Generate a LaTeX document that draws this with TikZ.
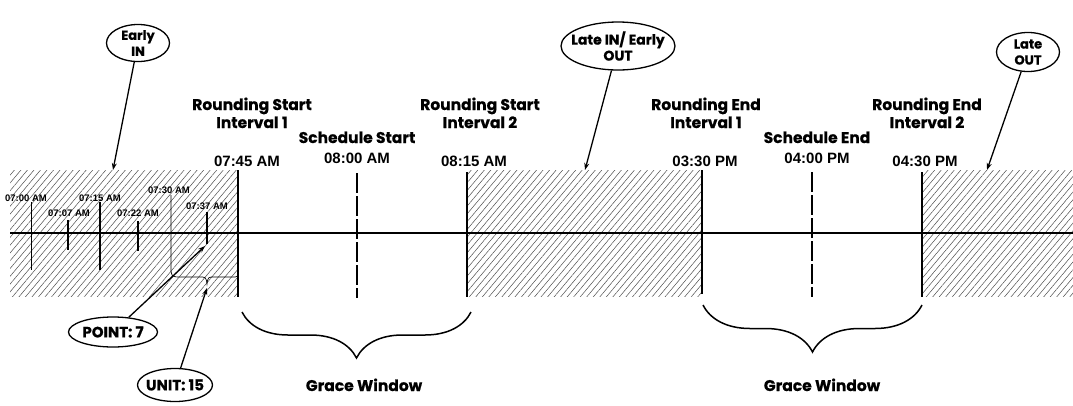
\documentclass[tikz,border=0pt]{standalone}
\usepackage{fontspec}
\usepackage{tikz}
\usetikzlibrary{shapes.geometric, arrows.meta, patterns.meta, decorations.pathreplacing}
\newfontfamily\gothic{Poppins}[BoldFeatures={FakeBold=0.6}]
\newfontfamily\arialb{Liberation Sans}
\tikzset{
  heading/.style={font=\gothic\bfseries\fontsize{15.5}{18}\selectfont, align=center, inner sep=0pt, anchor=base},
  clock/.style={font=\arialb\bfseries\fontsize{15}{18}\selectfont, inner sep=0pt, anchor=base},
  tinyclock/.style={font=\arialb\bfseries\fontsize{9.5}{11}\selectfont, inner sep=0pt, anchor=base},
  callout/.style={ellipse, draw, line width=1.3pt, font=\gothic\bfseries\fontsize{13}{16}\selectfont, align=center, inner sep=-12pt},
  bigcallout/.style={callout, font=\gothic\bfseries\fontsize{15}{18}\selectfont},
  arrow/.style={line width=1.3pt, -{Stealth[length=7pt,width=5pt]}},
  bound/.style={line width=2pt},
  sched/.style={line width=1.8pt, dash pattern=on 20pt off 3pt},
  hatch/.style={pattern={Lines[angle=50,distance=5pt,line width=0.5pt]}, pattern color=black!70},
  gracebrace/.style={line width=1.5pt, decorate, decoration={brace, mirror, amplitude=#1}}
}

\begin{document}
\begin{tikzpicture}[x=1pt, y=-1pt]
  \useasboundingbox (0,0) rectangle (1073,405);

  % shaded zones outside the grace windows
  \fill[hatch] (10,170) rectangle (238,296);
  \fill[hatch] (467,170) rectangle (702,296);
  \fill[hatch] (923,170) rectangle (1073,296);

  % time line
  \draw[line width=1.5pt] (10,233) -- (1073,233);

  % interval bounds and schedule marks
  \draw[bound] (238,170) -- (238,297);
  \draw[bound] (467,172) -- (467,297);
  \draw[bound] (702,170) -- (702,294);
  \draw[bound] (922,172) -- (922,297);
  \draw[sched] (357,173) -- (357,298);
  \draw[sched] (812,172) -- (812,297);

  % punches before the window
  \draw[line width=1pt] (31,202) -- (31,270);
  \draw[line width=1.6pt] (68,220) -- (68,250);
  \draw[line width=1.2pt] (100,202) -- (100,270);
  \draw[line width=1.3pt] (138,221) -- (138,251);
  \draw[line width=1.3pt] (207,212) -- (207,244);
  \draw[line width=0.7pt] (171,195) -- (171,266) .. controls (171,277) .. (182,277)
    -- (199,277) .. controls (206,277) .. (207,284) .. controls (208,277) .. (215,277)
    -- (232,277) .. controls (238,277) .. (238,271);

  \node[tinyclock] (t700) at (26,201) {07:00 AM};
  \node[tinyclock] (t707) at (69,216) {07:07 AM};
  \node[tinyclock] (t715) at (100,201) {07:15 AM};
  \node[tinyclock] (t722) at (138,216) {07:22 AM};
  \node[tinyclock] (t730) at (169,193) {07:30 AM};
  \node[tinyclock] (t737) at (207,209) {07:37 AM};

  % headings
  \node[heading] (rs1) at (252,128) {Rounding Start\\Interval 1};
  \node[clock] (rs1t) at (247,166) {07:45 AM};
  \node[heading] (ss) at (357,143) {Schedule Start};
  \node[clock] (sst) at (357,163) {08:00 AM};
  \node[heading] (rs2) at (480,128) {Rounding Start\\Interval 2};
  \node[clock] (rs2t) at (474,166) {08:15 AM};
  \node[heading] (re1) at (706,128) {Rounding End\\Interval 1};
  \node[clock] (re1t) at (705,166) {03:30 PM};
  \node[heading] (se) at (817,143) {Schedule End};
  \node[clock] (set) at (817,163) {04:00 PM};
  \node[heading] (re2) at (927,128) {Rounding End\\Interval 2};
  \node[clock] (re2t) at (925,166) {04:30 PM};

  % grace windows
  \draw[gracebrace=46pt] (242,312) -- (471,312);
  \draw[gracebrace=47pt] (703,305) -- (922,305);
  \node[heading] (grace1) at (364,391) {Grace Window};
  \node[heading] (grace2) at (822,391) {Grace Window};

  % callouts
  \node[callout, minimum width=63pt, minimum height=37pt] (early) at (138,43) {Early\\IN};
  \node[callout, font=\gothic\bfseries\fontsize{14}{16}\selectfont, minimum width=114pt, minimum height=48pt] (lateio) at (618,46) {Late IN/ Early\\OUT};
  \node[callout, minimum width=63pt, minimum height=39pt] (lateout) at (1028,52) {Late\\OUT};
  \node[bigcallout, minimum width=89pt, minimum height=30pt] (point) at (113,332) {POINT: 7};
  \node[bigcallout, minimum width=75pt, minimum height=33pt] (unit) at (175,385) {UNIT: 15};

  \coordinate (earlytip) at (113,170);
  \coordinate (lateiotip) at (585,170);
  \coordinate (lateouttip) at (987,170);
  \coordinate (pointtip) at (205,246);
  \coordinate (unittip) at (207,288);

  \draw[arrow] (early) -- (earlytip);
  \draw[arrow] (lateio) -- (lateiotip);
  \draw[arrow] (lateout) -- (lateouttip);
  \draw[arrow] (point) -- (pointtip);
  \draw[arrow] (unit) -- (unittip);
\end{tikzpicture}
\end{document}
